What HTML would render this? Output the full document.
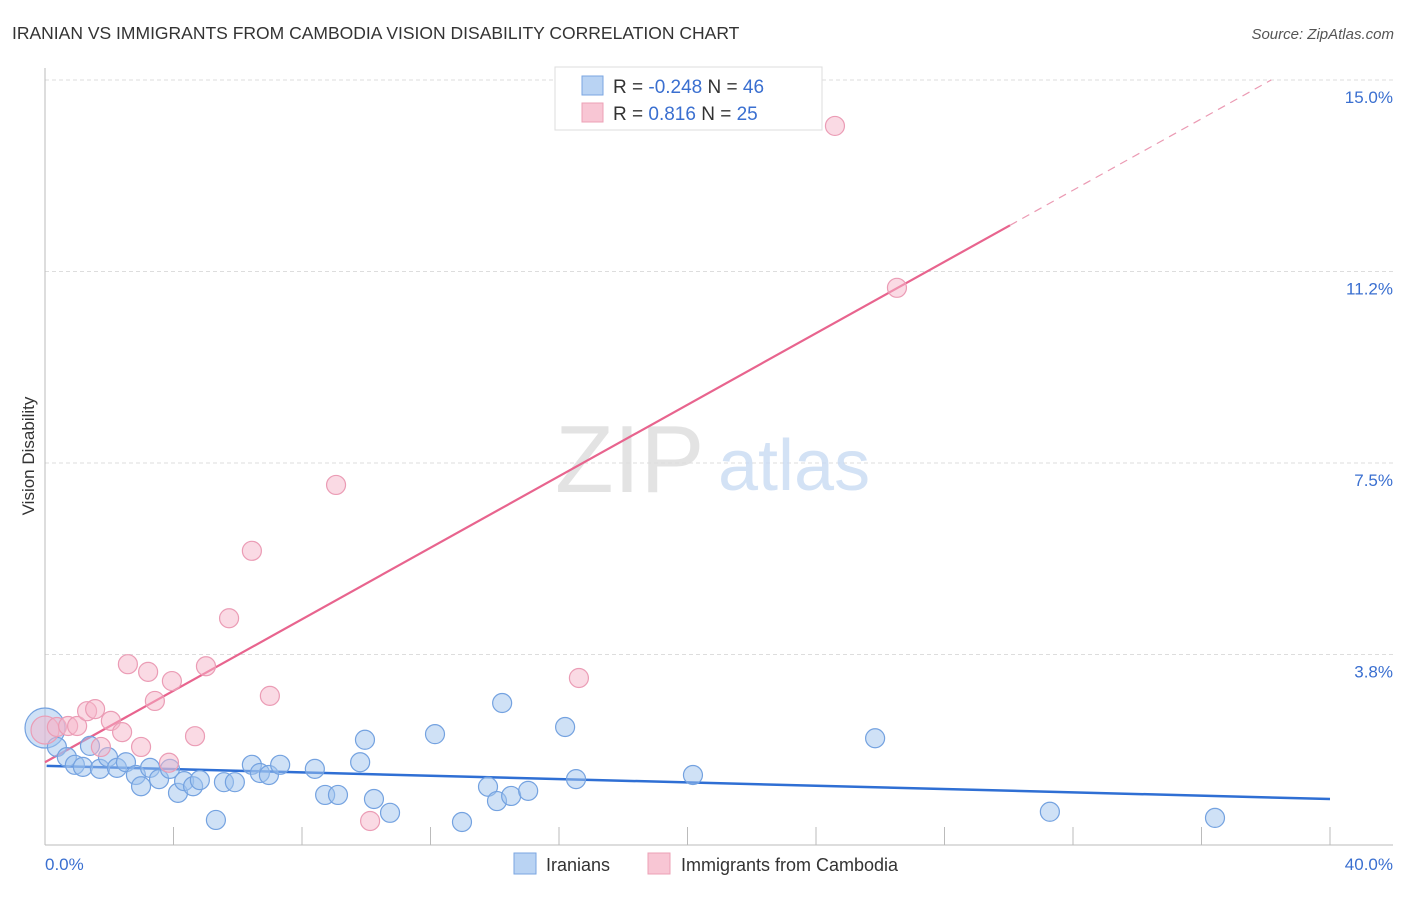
<!DOCTYPE html>
<html><head><meta charset="utf-8"><style>
body{margin:0;background:#fff;font-family:"Liberation Sans",sans-serif;}
svg text{font-family:"Liberation Sans",sans-serif;}
</style></head><body>
<svg width="1406" height="892" viewBox="0 0 1406 892">
<text x="12" y="39" font-size="17.5" fill="#333">IRANIAN VS IMMIGRANTS FROM CAMBODIA VISION DISABILITY CORRELATION CHART</text>
<text x="1394" y="39" font-size="15" fill="#555" font-style="italic" text-anchor="end">Source: ZipAtlas.com</text>
<g id="grid"></g>
<g>
<text x="555" y="492" font-size="96" fill="#ddd" font-family="Liberation Serif" opacity="0.8">ZIP</text>
<text x="718" y="490" font-size="72" fill="#c9dbf3" opacity="0.8">atlas</text>
</g>
<line x1="45" y1="68" x2="45" y2="845" stroke="#bbb"/>
<line x1="45" y1="845" x2="1393" y2="845" stroke="#bbb"/>
<g id="xticks"></g>
<g id="ylabels"></g>
<text x="45" y="870" font-size="17" fill="#3a6fd0">0.0%</text>
<text x="1393" y="870" font-size="17" fill="#3a6fd0" text-anchor="end">40.0%</text>
<text transform="translate(34,456) rotate(-90)" font-size="17" fill="#333" text-anchor="middle">Vision Disability</text>
<g id="lines"></g>
<g id="pts"></g>
<g>
<rect x="555" y="67" width="267" height="63" fill="#fff" stroke="#ddd"/>
<rect x="582" y="76" width="21" height="19" fill="#b9d3f3" stroke="#7aa6e2"/>
<rect x="582" y="103" width="21" height="19" fill="#f8c6d4" stroke="#eca0b6"/>
<text x="613" y="93" font-size="19" fill="#333">R = <tspan fill="#3a6fd0">-0.248</tspan>   N = <tspan fill="#3a6fd0">46</tspan></text>
<text x="613" y="120" font-size="19" fill="#333">R =   <tspan fill="#3a6fd0">0.816</tspan>   N = <tspan fill="#3a6fd0">25</tspan></text>
</g>
<g>
<rect x="514" y="853" width="22" height="21" fill="#b9d3f3" stroke="#7aa6e2"/>
<text x="546" y="871" font-size="18" fill="#333">Iranians</text>
<rect x="648" y="853" width="22" height="21" fill="#f8c6d4" stroke="#eca0b6"/>
<text x="681" y="871" font-size="18" fill="#333">Immigrants from Cambodia</text>
</g>
</svg>
<script>
const yTicks=[15.0,11.25,7.5,3.75];
const yTickLabels=["15.0%","11.2%","7.5%","3.8%"];
const xTicks=[4,8,12,16,20,24,28,32,36,40];
const blueX=[0,0.37,0.68,0.93,1.18,1.40,1.71,1.96,2.24,2.52,2.83,2.99,3.27,3.55,3.89,4.14,4.33,4.61,4.82,5.32,5.57,5.91,6.44,6.69,6.97,7.32,8.40,8.72,9.12,9.81,9.96,10.24,10.74,12.14,12.98,13.79,14.07,14.51,15.04,14.23,16.19,16.53,20.17,25.84,31.28,36.42];
const blueY=[2.31,1.94,1.74,1.59,1.55,1.96,1.51,1.74,1.53,1.64,1.39,1.17,1.53,1.31,1.51,1.04,1.27,1.17,1.29,0.51,1.25,1.25,1.59,1.43,1.39,1.59,1.51,1.00,1.00,1.64,2.08,0.92,0.65,2.19,0.47,1.16,0.88,0.98,1.08,2.80,2.33,1.31,1.39,2.11,0.67,0.55];
const pinkX=[0,0.37,0.72,1.0,1.31,1.56,1.74,2.05,2.40,2.58,2.99,3.21,3.42,3.86,3.95,4.67,5.01,5.73,6.44,7.00,9.06,10.12,16.62,24.59,26.52];
const pinkY=[2.27,2.33,2.35,2.35,2.64,2.68,1.94,2.45,2.23,3.56,1.94,3.41,2.84,1.63,3.23,2.15,3.52,4.46,5.78,2.94,7.07,0.49,3.29,14.10,10.93];
const blueTrend=[1.57,0.92];
const pinkTrend=[1.64,0.35];
const NS="http://www.w3.org/2000/svg";
const X=v=>45+v*32.125, Y=v=>846-v*51.07;
function mk(t,a,p){const e=document.createElementNS(NS,t);for(const k in a)e.setAttribute(k,a[k]);p.appendChild(e);return e;}
const g=document.getElementById('grid'),yl=document.getElementById('ylabels'),xt=document.getElementById('xticks');
yTicks.forEach((v,i)=>{
 const l=mk('line',{x1:45,x2:1393,y1:Y(v),y2:Y(v),stroke:'#ddd','stroke-dasharray':'4,3'},g);
 
 
 const t=mk('text',{x:1393,y:Y(v)+23,'font-size':17,fill:'#3a6fd0','text-anchor':'end'},yl);
 t.textContent=yTickLabels[i];
 
 
});
xTicks.forEach(v=>{
 const l=mk('line',{x1:X(v),x2:X(v),y1:827,y2:845,stroke:'#bbb'},xt);
 
 
});
const lg=document.getElementById('lines');
const bl=mk('line',{x1:X(0.05),y1:Y(blueTrend[0]),x2:X(40),y2:Y(blueTrend[0]+(blueTrend[1]-blueTrend[0])),stroke:'#2f6fd4','stroke-width':2.5},lg);


const pEnd=30.04, pMax=(15-pinkTrend[0])/pinkTrend[1];
const pl=mk('line',{x1:X(0),y1:Y(pinkTrend[0]),x2:X(pEnd),y2:Y(pinkTrend[0]+pinkTrend[1]*pEnd),stroke:'#e8648e','stroke-width':2.2},lg);


const pd=mk('line',{x1:X(pEnd),y1:Y(pinkTrend[0]+pinkTrend[1]*pEnd),x2:X(pMax),y2:Y(15),stroke:'#eb9ab3','stroke-width':1.2,'stroke-dasharray':'8,6'},lg);


const pg=document.getElementById('pts');
blueX.forEach((v,i)=>{
 const c=mk('circle',{cx:X(v),cy:Y(blueY[i]),r:i===0?20:9.5,fill:'rgba(160,195,238,0.5)',stroke:'#74a2e0','stroke-width':1.2},pg);
 
 
});
pinkX.forEach((v,i)=>{
 const c=mk('circle',{cx:X(v),cy:Y(pinkY[i]),r:i===0?14:9.5,fill:'rgba(246,182,202,0.5)',stroke:'#eb9cb5','stroke-width':1.2},pg);
 
 
});
</script>
</body></html>
